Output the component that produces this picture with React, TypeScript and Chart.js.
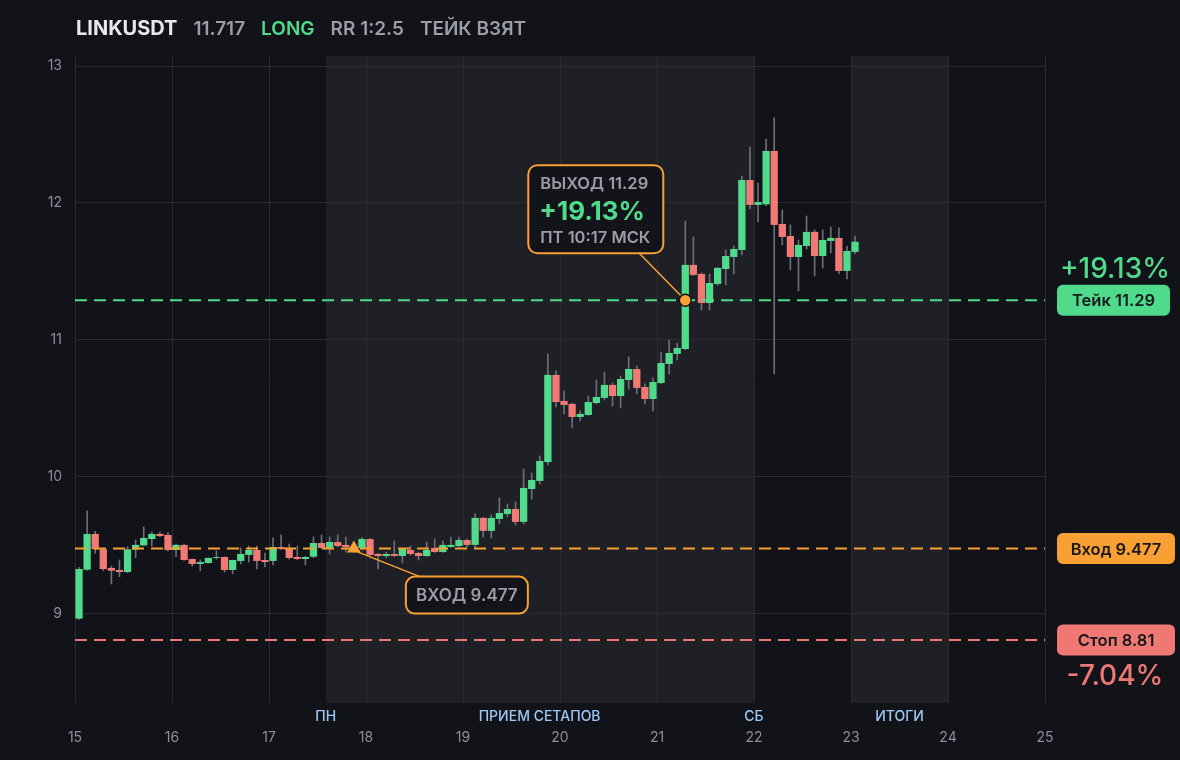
import React, { useEffect, useRef } from "react";
import { Chart, registerables } from "chart.js";

Chart.register(...registerables);

// ---- header ----
const SYMBOL = "LINKUSDT";
const LAST_PRICE = "11.717";
const SIDE = "LONG";
const RISK_REWARD = "RR 1:2.5";
const STATUS = "ТЕЙК ВЗЯТ";

// ---- time axis (day of month), 2-hour candles ----
const FIRST_DAY = 15;
const CANDLES_PER_DAY = 12;
const xTickValues = [15, 16, 17, 18, 19, 20, 21, 22, 23, 24, 25];
const yTickValues = [9, 10, 11, 12, 13];
const Y_MIN = 8.35;
const Y_MAX = 13.073;

// ---- candles ----
const opens = [
  8.966, 9.323, 9.584, 9.472, 9.336, 9.321, 9.306, 9.47, 9.5, 9.547,
  9.584, 9.577, 9.467, 9.504, 9.401, 9.365, 9.372, 9.409, 9.416, 9.321,
  9.387, 9.431, 9.467, 9.394, 9.387, 9.489, 9.482, 9.416, 9.401, 9.418,
  9.518, 9.482, 9.525, 9.504, 9.489, 9.482, 9.547, 9.438, 9.423, 9.438,
  9.423, 9.467, 9.445, 9.423, 9.482, 9.452, 9.489, 9.496, 9.54, 9.504,
  9.701, 9.606, 9.693, 9.73, 9.766, 9.672, 9.912, 9.971, 10.109, 10.745,
  10.555, 10.533, 10.438, 10.453, 10.54, 10.577, 10.672, 10.591, 10.708, 10.788,
  10.657, 10.569, 10.686, 10.825, 10.898, 10.934, 11.548, 11.482, 11.27, 11.409,
  11.518, 11.606, 11.657, 12.168, 11.986, 11.99, 12.38, 11.847, 11.759, 11.606,
  11.686, 11.789, 11.613, 11.723, 11.745, 11.504, 11.643,
];
const highs = [
  9.34, 9.752, 9.603, 9.475, 9.35, 9.394, 9.49, 9.54, 9.635, 9.598,
  9.598, 9.594, 9.51, 9.511, 9.401, 9.394, 9.41, 9.46, 9.416, 9.394,
  9.482, 9.496, 9.496, 9.445, 9.555, 9.577, 9.511, 9.496, 9.42, 9.562,
  9.577, 9.562, 9.577, 9.562, 9.52, 9.56, 9.55, 9.44, 9.45, 9.533,
  9.48, 9.496, 9.45, 9.525, 9.547, 9.533, 9.562, 9.562, 9.547, 9.73,
  9.705, 9.723, 9.847, 9.803, 9.818, 10.058, 10.029, 10.153, 10.898, 10.774,
  10.628, 10.54, 10.482, 10.591, 10.708, 10.766, 10.686, 10.737, 10.876, 10.81,
  10.679, 10.723, 10.912, 11.0, 10.978, 11.869, 11.752, 11.49, 11.482, 11.53,
  11.657, 11.686, 12.197, 12.409, 12.146, 12.467, 12.621, 11.949, 11.84, 11.73,
  11.905, 11.803, 11.803, 11.825, 11.818, 11.686, 11.759,
];
const lows = [
  8.96, 9.32, 9.443, 9.316, 9.219, 9.272, 9.3, 9.411, 9.5, 9.496,
  9.565, 9.46, 9.418, 9.39, 9.35, 9.314, 9.37, 9.4, 9.306, 9.292,
  9.365, 9.379, 9.328, 9.343, 9.358, 9.47, 9.4, 9.395, 9.357, 9.41,
  9.48, 9.438, 9.49, 9.452, 9.45, 9.47, 9.42, 9.328, 9.41, 9.42,
  9.372, 9.43, 9.394, 9.42, 9.45, 9.45, 9.485, 9.49, 9.49, 9.474,
  9.562, 9.555, 9.657, 9.708, 9.65, 9.657, 9.839, 9.949, 10.088, 10.511,
  10.46, 10.358, 10.409, 10.45, 10.533, 10.562, 10.518, 10.504, 10.642, 10.606,
  10.533, 10.482, 10.68, 10.752, 10.854, 10.93, 11.47, 11.219, 11.219, 11.4,
  11.402, 11.482, 11.621, 11.956, 11.861, 11.98, 10.752, 11.694, 11.511, 11.358,
  11.664, 11.467, 11.526, 11.635, 11.482, 11.445, 11.628,
];
const closes = [
  9.328, 9.584, 9.472, 9.328, 9.316, 9.306, 9.472, 9.504, 9.555, 9.584,
  9.569, 9.467, 9.504, 9.394, 9.365, 9.379, 9.409, 9.416, 9.321, 9.394,
  9.438, 9.467, 9.387, 9.379, 9.489, 9.474, 9.409, 9.401, 9.416, 9.518,
  9.482, 9.525, 9.496, 9.489, 9.478, 9.547, 9.431, 9.423, 9.438, 9.423,
  9.474, 9.438, 9.423, 9.467, 9.452, 9.504, 9.504, 9.54, 9.504, 9.701,
  9.606, 9.701, 9.737, 9.766, 9.672, 9.92, 9.978, 10.117, 10.745, 10.547,
  10.526, 10.438, 10.46, 10.547, 10.584, 10.672, 10.591, 10.715, 10.788, 10.65,
  10.569, 10.693, 10.832, 10.905, 10.942, 11.548, 11.475, 11.27, 11.416, 11.526,
  11.613, 11.664, 12.168, 11.986, 12.007, 12.38, 11.84, 11.752, 11.606, 11.694,
  11.789, 11.613, 11.73, 11.745, 11.504, 11.65, 11.717,
];

// ---- trade levels ----
const TAKE_PRICE = 11.29;
const ENTRY_PRICE = 9.477;
const STOP_PRICE = 8.81;
const TAKE_PCT = "+19.13%";
const STOP_PCT = "-7.04%";
const ENTRY_CANDLE = 34;
const EXIT_CANDLE = 75;
const EXIT_TIME = "ПТ 10:17 МСК";

// ---- session bands ----
const bandStarts = [17.585, 23];
const bandEnds = [22, 24];
const bandLabelTexts = ["ПН", "ПРИЕМ СЕТАПОВ", "СБ", "ИТОГИ"];
const bandLabelDays = [17.585, 19.79, 22, 23.5];

const C = {
  bg: "#121318",
  band: "#1f2025",
  grid: "#2a2b31",
  up: "#50da8c",
  down: "#f27a76",
  wick: "#6c6f77",
  orange: "#f8a033",
  tick: "#8b8e98",
  label: "#9cc8f6",
  text: "#e8e9ec",
  muted: "#9b9ea7",
  dark: "#131419",
  stop: "#f07874",
};
const FONT = "Inter, 'Noto Sans', sans-serif";

const times = opens.map((_, i) => FIRST_DAY + (i + 0.5) / CANDLES_PER_DAY);

function rr(ctx: CanvasRenderingContext2D, x: number, y: number, w: number, h: number, r: number) {
  ctx.beginPath();
  ctx.moveTo(x + r, y);
  ctx.lineTo(x + w - r, y);
  ctx.arcTo(x + w, y, x + w, y + r, r);
  ctx.lineTo(x + w, y + h - r);
  ctx.arcTo(x + w, y + h, x + w - r, y + h, r);
  ctx.lineTo(x + r, y + h);
  ctx.arcTo(x, y + h, x, y + h - r, r);
  ctx.lineTo(x, y + r);
  ctx.arcTo(x, y, x + r, y, r);
  ctx.closePath();
}

const BODY_DATASET = 5;

const overlayPlugin = {
  id: "overlay",
  beforeDraw(chart: any) {
    const { ctx, chartArea: a, scales } = chart;
    const x = scales.x;
    ctx.save();
    ctx.fillStyle = C.bg;
    ctx.fillRect(0, 0, chart.width, chart.height);
    ctx.fillStyle = C.band;
    bandStarts.forEach((s, i) => {
      const x0 = x.getPixelForValue(s);
      const x1 = x.getPixelForValue(bandEnds[i]);
      ctx.fillRect(x0, a.top, x1 - x0, a.bottom - a.top);
    });
    ctx.restore();
  },
  afterDatasetDraw(chart: any, args: any) {
    if (args.index !== BODY_DATASET) return;
    const { ctx, scales } = chart;
    const { x, y } = scales;
    ctx.save();
    ctx.strokeStyle = C.orange;
    ctx.lineWidth = 1.5;
    const mx = x.getPixelForValue(times[ENTRY_CANDLE]);
    const my = y.getPixelForValue(ENTRY_PRICE);
    ctx.beginPath();
    ctx.moveTo(mx + 3, my + 3);
    ctx.lineTo(mx + 66, my + 28);
    ctx.stroke();
    const dx = x.getPixelForValue(times[EXIT_CANDLE]);
    const dy = y.getPixelForValue(TAKE_PRICE);
    ctx.beginPath();
    ctx.moveTo(dx - 46, dy - 47);
    ctx.lineTo(dx, dy);
    ctx.stroke();
    ctx.restore();
  },
  afterDraw(chart: any) {
    const { ctx, chartArea: a, scales } = chart;
    const { x, y } = scales;
    ctx.save();

    // header
    ctx.textBaseline = "alphabetic";
    ctx.textAlign = "left";
    const header: [string, string][] = [
      [SYMBOL, C.text],
      [LAST_PRICE, C.muted],
      [SIDE, C.up],
      [RISK_REWARD, C.muted],
      [STATUS, C.muted],
    ];
    let hx = 76;
    header.forEach(([t, col], i) => {
      ctx.font = i === 0 ? `700 20px ${FONT}` : `600 19px ${FONT}`;
      ctx.fillStyle = col;
      ctx.fillText(t, hx, 35);
      hx += ctx.measureText(t).width + 16;
    });

    // band labels
    ctx.font = `500 14px ${FONT}`;
    ctx.fillStyle = C.label;
    ctx.textAlign = "center";
    ctx.textBaseline = "middle";
    bandLabelTexts.forEach((t, i) => {
      ctx.fillText(t, x.getPixelForValue(bandLabelDays[i]), 717);
    });

    // entry box
    const mx = x.getPixelForValue(times[ENTRY_CANDLE]);
    const my = y.getPixelForValue(ENTRY_PRICE);
    const ex = mx + 52, ey = my + 28, ew = 122, eh = 37;
    rr(ctx, ex, ey, ew, eh, 9);
    ctx.fillStyle = C.dark;
    ctx.fill();
    ctx.strokeStyle = C.orange;
    ctx.lineWidth = 2;
    ctx.stroke();
    ctx.font = `600 17px ${FONT}`;
    ctx.fillStyle = C.muted;
    ctx.textAlign = "center";
    ctx.textBaseline = "middle";
    ctx.fillText(`ВХОД ${ENTRY_PRICE}`, ex + ew / 2, ey + eh / 2 + 1);

    // exit box
    const dx = x.getPixelForValue(times[EXIT_CANDLE]);
    const dy = y.getPixelForValue(TAKE_PRICE);
    const bx = dx - 157, by = dy - 135, bw = 135, bh = 88;
    rr(ctx, bx, by, bw, bh, 9);
    ctx.fillStyle = C.dark;
    ctx.fill();
    ctx.strokeStyle = C.orange;
    ctx.lineWidth = 2;
    ctx.stroke();
    ctx.textAlign = "left";
    ctx.textBaseline = "alphabetic";
    ctx.font = `600 16.5px ${FONT}`;
    ctx.fillStyle = C.muted;
    ctx.fillText(`ВЫХОД ${TAKE_PRICE}`, bx + 12, by + 24);
    ctx.font = `700 26px ${FONT}`;
    ctx.fillStyle = C.up;
    ctx.fillText(TAKE_PCT, bx + 11, by + 55);
    ctx.font = `600 16.5px ${FONT}`;
    ctx.fillStyle = C.muted;
    ctx.fillText(EXIT_TIME, bx + 12, by + 78);

    // right pills
    const px = a.right + 12;
    const pills: [string, number, string, number][] = [
      [`Тейк ${TAKE_PRICE}`, TAKE_PRICE, C.up, 113],
      [`Вход ${ENTRY_PRICE}`, ENTRY_PRICE, C.orange, 118],
      [`Стоп ${STOP_PRICE}`, STOP_PRICE, C.stop, 118],
    ];
    pills.forEach(([t, v, col, w]) => {
      const py = y.getPixelForValue(v);
      rr(ctx, px, py - 15.5, w, 31, 6);
      ctx.fillStyle = col;
      ctx.fill();
      ctx.font = `600 16.5px ${FONT}`;
      ctx.fillStyle = "#17181c";
      ctx.textAlign = "center";
      ctx.textBaseline = "middle";
      ctx.fillText(t, px + w / 2, py + 1);
    });
    ctx.font = `500 28px ${FONT}`;
    ctx.textAlign = "center";
    ctx.textBaseline = "middle";
    ctx.fillStyle = C.up;
    ctx.fillText(TAKE_PCT, px + 58, y.getPixelForValue(TAKE_PRICE) - 31);
    ctx.fillStyle = C.stop;
    ctx.fillText(STOP_PCT, px + 58, y.getPixelForValue(STOP_PRICE) + 37);

    ctx.restore();
  },
};

export default function App() {
  const ref = useRef<HTMLCanvasElement | null>(null);

  useEffect(() => {
    if (!ref.current) return;
    Chart.defaults.font.family = FONT;
    const bodies = times.map((t, i) => ({
      x: t,
      y: [Math.min(opens[i], closes[i]), Math.max(opens[i], closes[i])],
    }));
    const bodyColors = times.map((_, i) => (closes[i] >= opens[i] ? C.up : C.down));
    const wicks = times.map((t, i) => ({ x: t, y: [lows[i], highs[i]] }));
    const level = (v: number) => [
      { x: xTickValues[0], y: v },
      { x: xTickValues[xTickValues.length - 1], y: v },
    ];

    const chart = new Chart(ref.current, {
      type: "bar",
      data: {
        datasets: [
          {
            type: "scatter",
            data: [{ x: times[EXIT_CANDLE], y: TAKE_PRICE }],
            pointStyle: "circle",
            pointRadius: 6,
            backgroundColor: C.orange,
            borderColor: C.bg,
            borderWidth: 1.5,
            order: 0,
          } as any,
          {
            type: "scatter",
            data: [{ x: times[ENTRY_CANDLE], y: ENTRY_PRICE }],
            pointStyle: "triangle",
            pointRadius: 8,
            backgroundColor: C.orange,
            borderColor: C.orange,
            borderWidth: 0,
            order: 0,
          } as any,
          {
            type: "line",
            data: level(TAKE_PRICE),
            borderColor: C.up,
            borderWidth: 2,
            borderDash: [12, 7],
            pointRadius: 0,
            order: 1,
          } as any,
          {
            type: "line",
            data: level(ENTRY_PRICE),
            borderColor: C.orange,
            borderWidth: 2,
            borderDash: [12, 7],
            pointRadius: 0,
            order: 1,
          } as any,
          {
            type: "line",
            data: level(STOP_PRICE),
            borderColor: C.stop,
            borderWidth: 2,
            borderDash: [12, 7],
            pointRadius: 0,
            order: 1,
          } as any,
          {
            type: "bar",
            data: bodies,
            backgroundColor: bodyColors,
            borderWidth: 0,
            grouped: false,
            barPercentage: 0.9,
            categoryPercentage: 1,
            order: 2,
          } as any,
          {
            type: "bar",
            data: wicks,
            backgroundColor: C.wick,
            borderWidth: 0,
            grouped: false,
            barThickness: 1,
            order: 3,
          } as any,
        ],
      },
      options: {
        animation: false,
        responsive: false,
        events: [],
        layout: { padding: { left: 0, right: 135, top: 56, bottom: 0 } },
        plugins: { legend: { display: false }, tooltip: { enabled: false } },
        scales: {
          x: {
            type: "linear",
            min: xTickValues[0],
            max: xTickValues[xTickValues.length - 1],
            offset: false,
            grid: { color: C.grid, offset: false, drawTicks: false, lineWidth: 1 },
            border: { display: false },
            ticks: {
              stepSize: 1,
              color: C.tick,
              font: { size: 14, family: FONT },
              padding: 26,
              maxRotation: 0,
              autoSkip: false,
            },
            afterBuildTicks: (s: any) => {
              s.ticks = xTickValues.map((v) => ({ value: v }));
            },
            afterFit: (s: any) => {
              s.height = 57;
            },
          },
          y: {
            type: "linear",
            min: Y_MIN,
            max: Y_MAX,
            beginAtZero: false,
            grid: { color: C.grid, drawTicks: false, lineWidth: 1 },
            border: { display: false },
            ticks: {
              stepSize: 1,
              color: C.tick,
              font: { size: 14, family: FONT },
              padding: 13,
            },
            afterBuildTicks: (s: any) => {
              s.ticks = yTickValues.map((v) => ({ value: v }));
            },
            afterFit: (s: any) => {
              s.width = 75;
            },
          },
        },
      } as any,
      plugins: [overlayPlugin],
    });
    return () => chart.destroy();
  }, []);

  return (
    <div style={{ position: "fixed", left: 0, top: 0, width: 1180, height: 760, background: C.bg }}>
      <canvas ref={ref} width={1180} height={760} style={{ width: 1180, height: 760, display: "block" }} />
    </div>
  );
}
